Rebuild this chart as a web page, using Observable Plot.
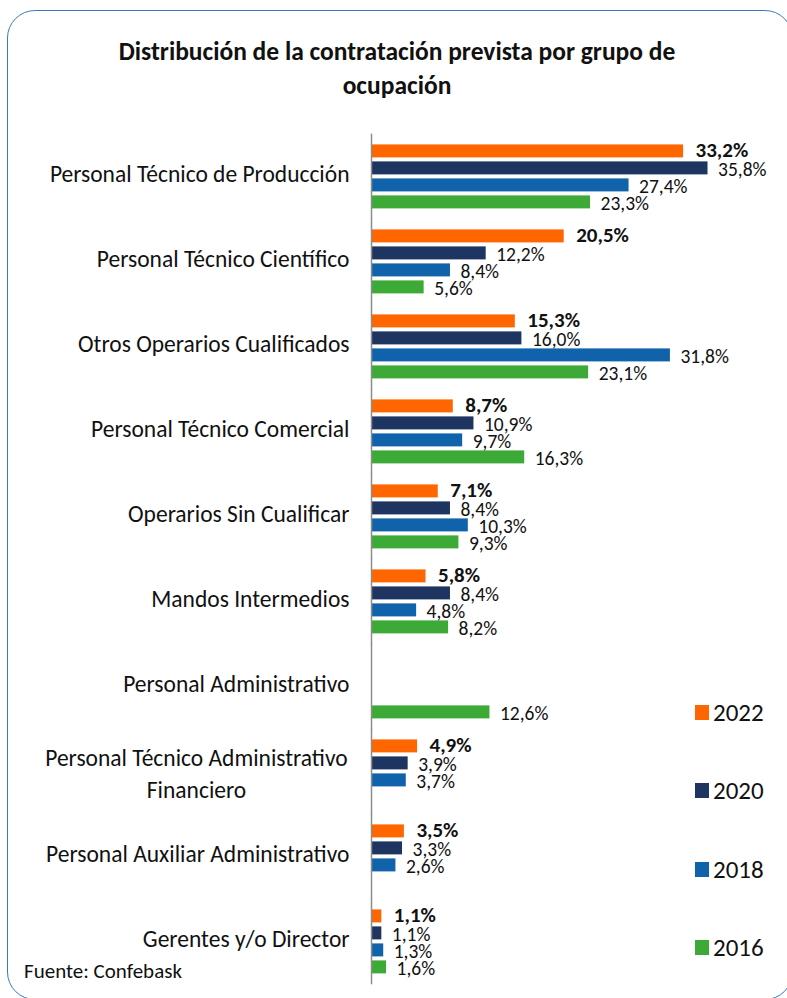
<!DOCTYPE html>
<html>
<head>
<meta charset="utf-8">
<script src="https://cdn.jsdelivr.net/npm/d3@7"></script>
<script src="https://cdn.jsdelivr.net/npm/@observablehq/plot@0.6"></script>
<style>
  html, body { margin: 0; padding: 0; background: #fff; }
  body { width: 787px; height: 998px; position: relative; overflow: hidden; font-family: Carlito, Lato, "Noto Sans", sans-serif; color: #111; }
  #frame { position: absolute; left: 7px; top: 10px; width: 786px; height: 990px; border: 1.5px solid #3b78bd; border-radius: 28px; box-sizing: border-box; }
  #title { position: absolute; left: 7px; width: 780px; top: 35px; text-align: center; font-weight: bold; font-size: 25.5px; line-height: 34px; }
  #chart { position: absolute; left: 0; top: 0; }
  #legend { position: absolute; left: 695px; top: 0; }
  .li { position: absolute; left: 0; display: flex; align-items: center; font-size: 25px; white-space: nowrap; }
  .sw { width: 14px; height: 15px; margin-right: 4px; }
  #source { position: absolute; left: 24px; top: 958px; font-size: 21px; }
</style>
</head>
<body>
<div id="frame"></div>
<div id="title">Distribución de la contratación prevista por grupo de<br>ocupación</div>
<div id="chart"></div>
<div id="legend"></div>
<div id="source">Fuente: Confebask</div>
<script>
const categories = [
  "Personal Técnico de Producción",
  "Personal Técnico Científico",
  "Otros Operarios Cualificados",
  "Personal Técnico Comercial",
  "Operarios Sin Cualificar",
  "Mandos Intermedios",
  "Personal Administrativo",
  "Personal Técnico Administrativo\nFinanciero",
  "Personal Auxiliar Administrativo",
  "Gerentes y/o Director"
];
const years = [2022, 2020, 2018, 2016];
const colors = ["#ff6600", "#1e3461", "#1063ab", "#3daa38"];
const v2022 = [33.2, 20.5, 15.3, 8.7, 7.1, 5.8, null, 4.9, 3.5, 1.1];
const v2020 = [35.8, 12.2, 16.0, 10.9, 8.4, 8.4, null, 3.9, 3.3, 1.1];
const v2018 = [27.4, 8.4, 31.8, 9.7, 10.3, 4.8, null, 3.7, 2.6, 1.3];
const v2016 = [23.3, 5.6, 23.1, 16.3, 9.3, 8.2, 12.6, null, null, 1.6];

const series = [v2022, v2020, v2018, v2016];
const rows = [];
categories.forEach((cat, i) => {
  years.forEach((year, j) => {
    const v = series[j][i];
    if (v != null) rows.push({cat, year, value: v});
  });
});
const fmt = v => v.toFixed(1).replace(".", ",") + "%";
const singleCats = categories.filter(c => !c.includes("\n"));
const multiCats = categories.filter(c => c.includes("\n"));

const chart = Plot.plot({
  width: 787,
  height: 998,
  marginLeft: 371,
  marginRight: 40,
  marginTop: 140.6,
  marginBottom: 21,
  style: {fontFamily: "Carlito, Lato, 'Noto Sans', sans-serif", color: "#111", background: "transparent"},
  x: {domain: [0, 40], axis: null},
  y: {domain: years, axis: null, padding: 0},
  fy: {domain: categories, axis: null, paddingInner: 0.193, paddingOuter: 0},
  color: {type: "ordinal", domain: years, range: colors},
  marks: [
    Plot.barX(rows, {x: "value", y: "year", fy: "cat", fill: "year", insetTop: 2, insetBottom: 2}),
    Plot.ruleX([0], {stroke: "#8c8c8c", strokeWidth: 1.5, insetTop: -8.3, insetBottom: -8.3}),
    Plot.text(rows.filter(d => d.year === 2022), {x: "value", y: "year", fy: "cat", text: d => fmt(d.value), textAnchor: "start", dx: 12, dy: -1, fontSize: 21, fontWeight: "bold", fill: "#111"}),
    Plot.text(rows.filter(d => d.year !== 2022), {x: "value", y: "year", fy: "cat", text: d => fmt(d.value), textAnchor: "start", dx: 10, dy: 1, fontSize: 19.5, fill: "#111"}),
    Plot.text(singleCats, {fy: d => d, text: d => d, frameAnchor: "left", textAnchor: "end", dx: -22, dy: -2.5, fontSize: 23.5, fill: "#111"}),
    Plot.text(multiCats, {fy: d => d, text: d => d, frameAnchor: "left", textAnchor: "middle", dx: -175, fontSize: 23.5, lineHeight: 1.35, fill: "#111"})
  ]
});
document.getElementById("chart").appendChild(chart);

const legendTops = [712, 790, 869, 947];
const legend = document.getElementById("legend");
years.forEach((y, i) => {
  const item = document.createElement("div");
  item.className = "li";
  item.style.top = (legendTops[i] - 15) + "px";
  item.style.height = "30px";
  const sw = document.createElement("span");
  sw.className = "sw";
  sw.style.background = colors[i];
  const lab = document.createElement("span");
  lab.textContent = y;
  item.appendChild(sw);
  item.appendChild(lab);
  legend.appendChild(item);
});
</script>
</body>
</html>
